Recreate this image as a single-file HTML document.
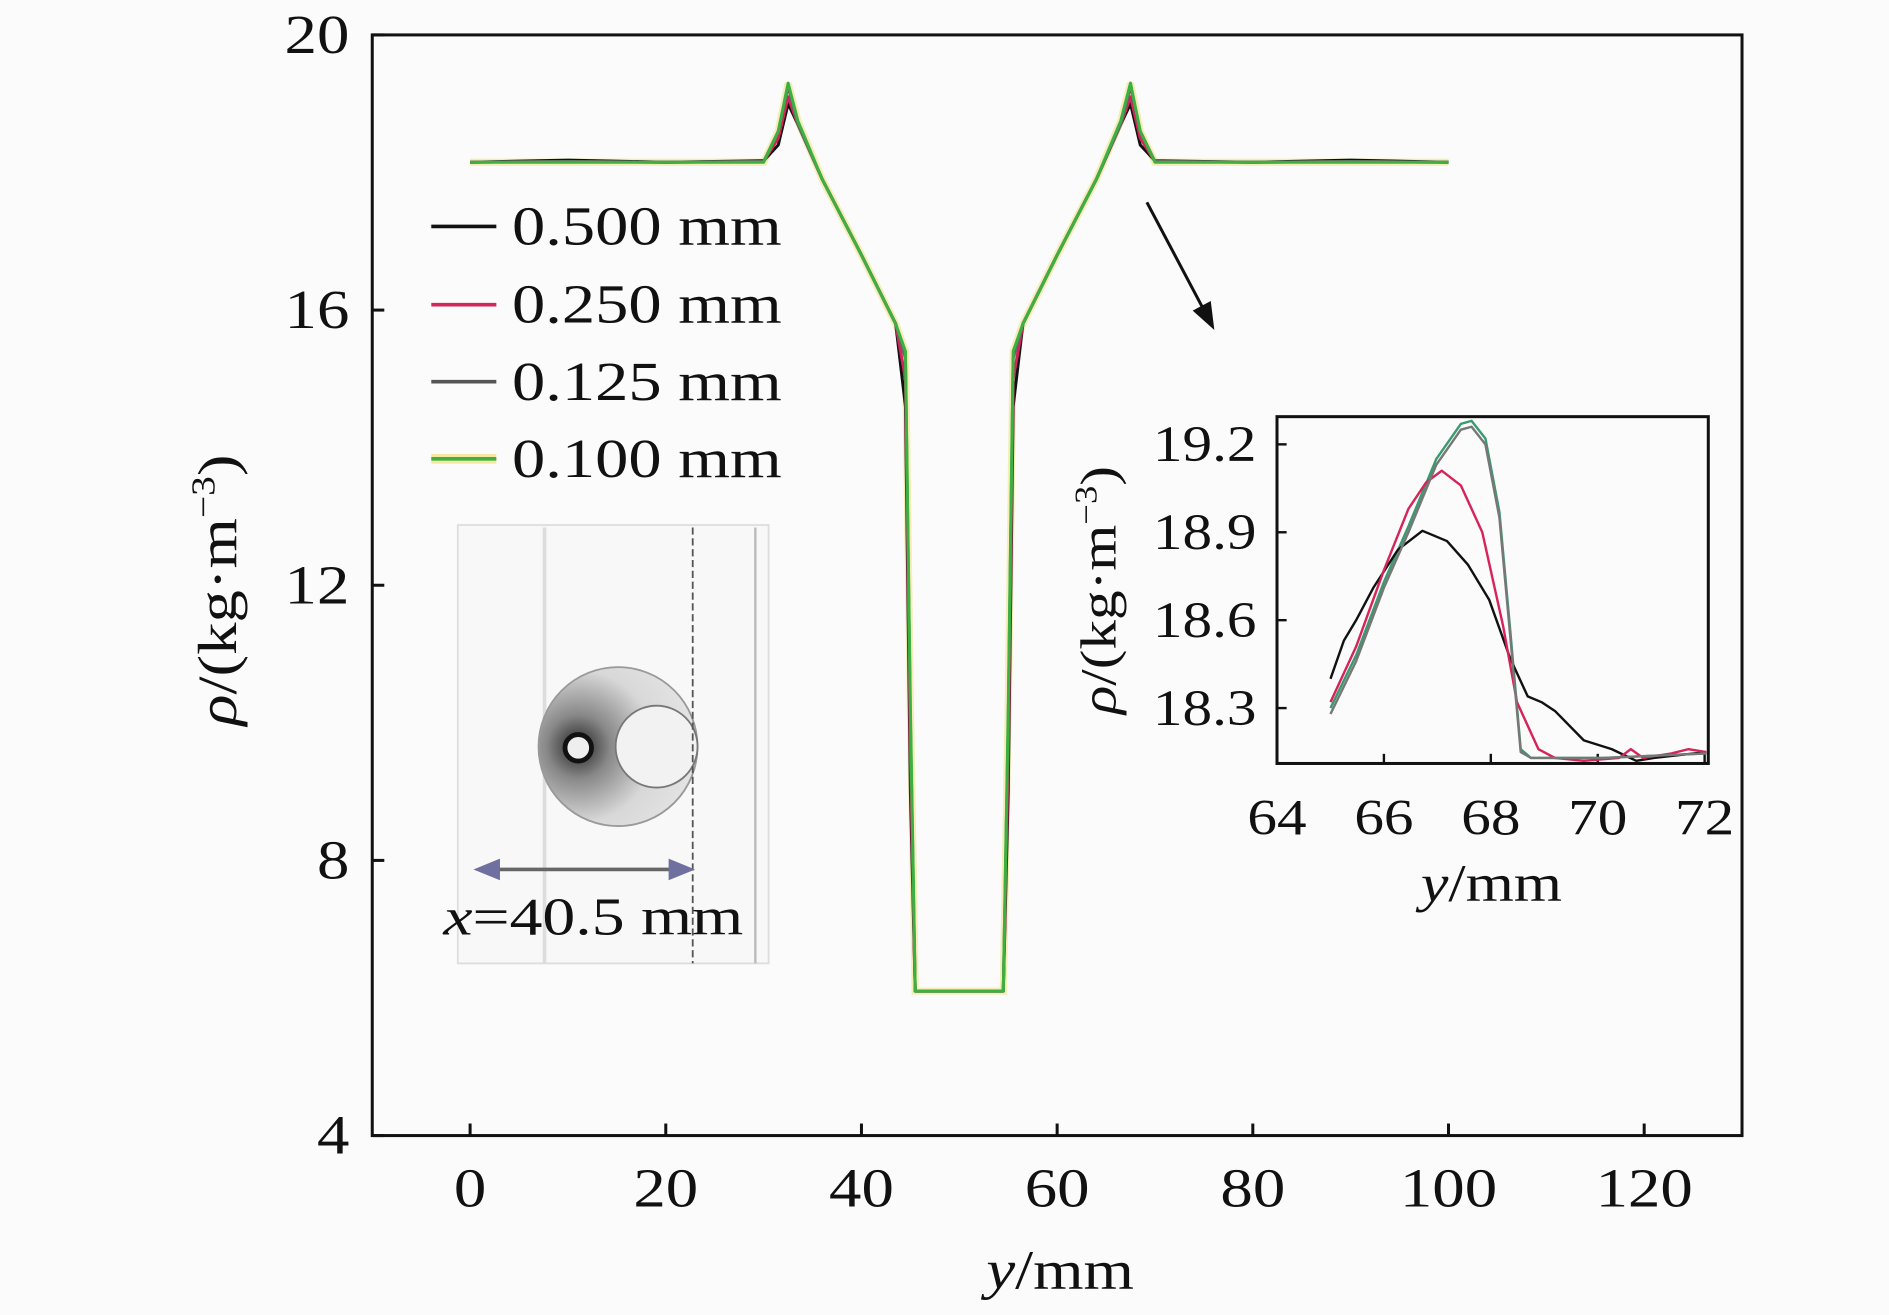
<!DOCTYPE html>
<html><head><meta charset="utf-8"><style>
html,body{margin:0;padding:0;background:#fbfbfb;}
svg{display:block;font-family:"Liberation Serif",serif;}
</style></head><body>
<svg id="chart" width="1889" height="1315" viewBox="0 0 1568 1092" preserveAspectRatio="none" xmlns="http://www.w3.org/2000/svg">
<defs>
<radialGradient id="blast" cx="0.25" cy="0.5" r="0.8">
<stop offset="0" stop-color="#222"/><stop offset="0.25" stop-color="#888"/><stop offset="0.6" stop-color="#d8d8d8"/><stop offset="1" stop-color="#e6e6e6"/>
</radialGradient>
</defs>
<rect x="0" y="0" width="1568" height="1092" fill="#fbfbfb"/>
<g id="main"></g>
<g id="legend"></g>
<g id="schlieren">
<rect x="380" y="436" width="258" height="364" fill="#f8f8f8" stroke="#ddd" stroke-width="1.5"/>
<line x1="452" y1="438" x2="452" y2="800" stroke="#ddd" stroke-width="3"/>
<line x1="627" y1="438" x2="627" y2="800" stroke="#bbb" stroke-width="2"/>
<circle cx="513" cy="620" r="66" fill="url(#blast)" stroke="#999" stroke-width="1.5"/>
<circle cx="545" cy="620" r="34" fill="#f2f2f2" stroke="#777" stroke-width="1.5"/>
<circle cx="480" cy="621" r="11" fill="#eee" stroke="#111" stroke-width="4"/>
<line x1="575" y1="438" x2="575" y2="800" stroke="#555" stroke-width="1.5" stroke-dasharray="6,3"/>
<line x1="405" y1="722" x2="565" y2="722" stroke="#666" stroke-width="3"/>
<polygon points="393,722 415,713 415,731" fill="#6f6fa0"/>
<polygon points="577,722 555,713 555,731" fill="#6f6fa0"/>
<text transform="translate(368,776) scale(1.24,1)" font-size="44" fill="#111"><tspan font-style="italic">x</tspan>=40.5 mm</text>
</g>
<g id="zoomarrow">
<line x1="952" y1="168" x2="998" y2="255" stroke="#111" stroke-width="2.5"/>
<polygon points="1008,274 990,258 1005,250" fill="#111"/>
</g>
<g id="inset"></g>
</svg>
<script>
const xVals = [0, 10, 20, 30, 31.5, 32.5, 33.5, 36, 40, 43.5, 44.5, 45, 45.5, 54.5, 55, 55.5, 56.5, 60, 64, 66.5, 67.5, 68.5, 70, 80, 90, 100];
const s500 = [18.15,18.18,18.15,18.17,18.4,19.0,18.7,17.9,16.8,15.8,14.6,9.0,6.1,6.1,9.0,14.6,15.8,16.8,17.9,18.7,19.0,18.4,18.17,18.15,18.18,18.15];
const s250 = [18.15,18.16,18.15,18.16,18.5,19.1,18.7,17.9,16.8,15.8,15.0,9.5,6.1,6.1,9.5,15.0,15.8,16.8,17.9,18.7,19.1,18.5,18.16,18.15,18.16,18.15];
const s125 = [18.15,18.16,18.15,18.16,18.6,19.25,18.7,17.9,16.8,15.8,15.3,10.0,6.1,6.1,10.0,15.3,15.8,16.8,17.9,18.7,19.25,18.6,18.16,18.15,18.16,18.15];
const s100 = [18.15,18.15,18.15,18.15,18.6,19.3,18.75,17.9,16.8,15.8,15.4,10.2,6.1,6.1,10.2,15.4,15.8,16.8,17.9,18.75,19.3,18.6,18.15,18.15,18.15,18.15];
const xTicks = [0,20,40,60,80,100,120];
const yTicks = [4,8,12,16,20];
const legendLabels = ["0.500 mm","0.250 mm","0.125 mm","0.100 mm"];

const inBlackX = [65.0,65.25,65.48,65.8,66.26,66.72,67.18,67.57,67.97,68.36,68.69,68.95,69.2,69.74,70.26,70.72,71.05,72.03];
const inBlackY = [18.40,18.53,18.60,18.71,18.84,18.905,18.87,18.79,18.67,18.47,18.34,18.32,18.29,18.19,18.16,18.12,18.13,18.15];
const inRedX = [65.0,65.48,66.0,66.46,66.79,67.08,67.44,67.84,68.23,68.49,68.89,69.2,69.74,70.4,70.62,70.85,71.38,71.7,72.03];
const inRedY = [18.32,18.51,18.77,18.98,19.07,19.11,19.06,18.90,18.58,18.32,18.16,18.13,18.12,18.13,18.16,18.13,18.145,18.16,18.15];
const inGrayX = [65.0,65.48,66.0,66.46,66.98,67.44,67.64,67.9,68.16,68.36,68.56,68.75,70.1,72.03];
const inGrayY = [18.28,18.46,18.71,18.90,19.13,19.25,19.26,19.2,18.95,18.55,18.15,18.13,18.13,18.145];
const inGreenY = [18.30,18.48,18.73,18.92,19.15,19.27,19.28,19.22,18.97,18.57,18.16,18.13,18.13,18.145];
const inXTicks = [64,66,68,70,72];
const inYTicks = [18.3,18.6,18.9,19.2];

const NS = "http://www.w3.org/2000/svg";
function mk(tag, attrs, parent){const e=document.createElementNS(NS,tag);for(const k in attrs)e.setAttribute(k,attrs[k]);parent.appendChild(e);return e;}
function txt(parent,x,y,size,anchor,html,sx,rot){
  let tr='translate('+x+','+y+')'+(rot?' rotate(-90)':'')+' scale('+sx+',1)';
  const t=mk('text',{x:0,y:0,'font-size':size,'text-anchor':anchor,fill:'#111',transform:tr},parent);
  t.innerHTML=html;
  return t;
}

// main axes
const L=309,R=1446,T=29,B=943;
const X=v=>L+(v+10)/140*(R-L);
const Y=v=>B-(v-4)/16*(B-T);
const g=document.getElementById('main');
const frame=mk('rect',{x:L,y:T,width:R-L,height:B-T,fill:'none',stroke:'#111','stroke-width':2.5},g);


xTicks.forEach(t=>{
  const l=mk('line',{x1:X(t),y1:B,x2:X(t),y2:B-10,stroke:'#111','stroke-width':2.5},g);
  
  
  const tx=txt(g,X(t),1002,46,'middle',String(t),1.17,false);
  
  
});
yTicks.forEach(t=>{
  const l=mk('line',{x1:L,y1:Y(t),x2:L+10,y2:Y(t),stroke:'#111','stroke-width':2.5},g);
  
  
  const tx=txt(g,290,Y(t)+15,46,'end',String(t),1.17,false);
  
  
});
const xt=txt(g,880,1070,46,'middle','<tspan font-style="italic">y</tspan>/mm',1.17,false);


const yt=txt(g,196,490,46,'middle','<tspan font-style="italic">ρ</tspan>/(kg·m<tspan dy="-18" font-size="28">−3</tspan><tspan dy="18">)</tspan>',1.17,true);



function path(xs,ys,fx,fy){return xs.map((x,i)=>(i?'L':'M')+fx(x).toFixed(1)+','+fy(ys[i]).toFixed(1)).join(' ');}
const series=[[s500,'#111','series-0-500mm'],[s250,'#d6245a','series-0-250mm'],[s125,'#666','series-0-125mm'],[s100,'#3cb043','series-0-100mm']];
mk('path',{d:path(xVals,s100,X,Y),fill:'none',stroke:'#f0e070','stroke-width':6,'stroke-opacity':0.5},g);
series.forEach(s=>{
  const p=mk('path',{d:path(xVals,s[0],X,Y),fill:'none',stroke:s[1],'stroke-width':2.5,'stroke-linejoin':'round'},g);
  
  
});

// legend
const lg=document.getElementById('legend');
const lcol=['#111','#d6245a','#555','#3cb043'];
const ly=[188,253,317,381];
legendLabels.forEach((lab,i)=>{
  if(i===3) mk('line',{x1:358,y1:ly[i],x2:412,y2:ly[i],stroke:'#f5e6a0','stroke-width':8},lg);
  const l=mk('line',{x1:358,y1:ly[i],x2:412,y2:ly[i],stroke:lcol[i],'stroke-width':3},lg);
  
  
  const t=txt(lg,425,ly[i]+15,46,'start',lab,1.2,false);
  
  
});

// inset
const iL=1060,iR=1418,iT=346,iB=634;
const IX=v=>iL+(v-64)/8*(iR-iL)*0.9915;
const IY=v=>369+(19.2-v)/0.3*73;
const ig=document.getElementById('inset');
const ifr=mk('rect',{x:iL,y:iT,width:iR-iL,height:iB-iT,fill:'#fbfbfb',stroke:'#111','stroke-width':2.5},ig);


inXTicks.forEach(t=>{
  const l=mk('line',{x1:IX(t),y1:iB,x2:IX(t),y2:iB-8,stroke:'#111','stroke-width':2},ig);
  
  
  const tx=txt(ig,IX(t),693,42,'middle',String(t),1.17,false);
  
  
});
inYTicks.forEach(t=>{
  const l=mk('line',{x1:iL,y1:IY(t),x2:iL+8,y2:IY(t),stroke:'#111','stroke-width':2},ig);
  
  
  const tx=txt(ig,1043,IY(t)+14,42,'end',t.toFixed(1),1.17,false);
  
  
});
const ixt=txt(ig,1238,748,44,'middle','<tspan font-style="italic">y</tspan>/mm',1.17,false);


const iyt=txt(ig,926,490,42,'middle','<tspan font-style="italic">ρ</tspan>/(kg·m<tspan dy="-16" font-size="26">−3</tspan><tspan dy="16">)</tspan>',1.17,true);


const iser=[[inGrayX,inGreenY,'#3a9a70','inset-series-0-100mm'],[inBlackX,inBlackY,'#111','inset-series-0-500mm'],[inRedX,inRedY,'#d6245a','inset-series-0-250mm'],[inGrayX,inGrayY,'#777','inset-series-0-125mm']];
iser.forEach(s=>{
  const p=mk('path',{d:path(s[0],s[1],IX,IY),fill:'none',stroke:s[2],'stroke-width':2,'stroke-linejoin':'round'},ig);
  
  
});
</script>
</body></html>
